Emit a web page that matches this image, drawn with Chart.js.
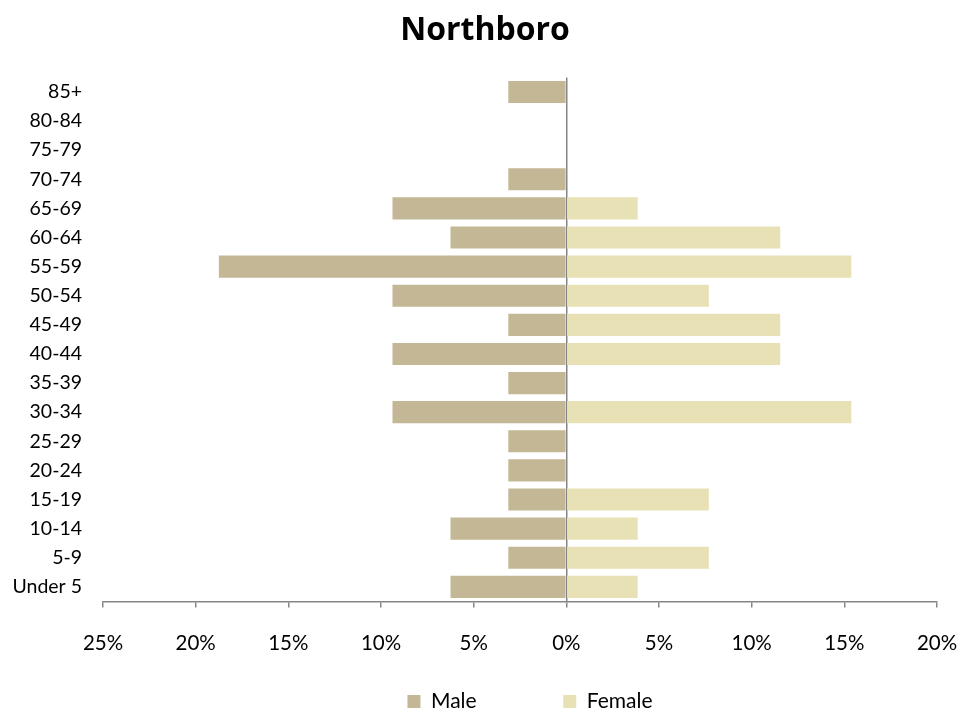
<!DOCTYPE html>
<html>
<head>
<meta charset="utf-8">
<script src="https://cdn.jsdelivr.net/npm/chart.js@4/dist/chart.umd.min.js"></script>
<style>
  html, body { margin: 0; padding: 0; background: #fff; }
  #wrap { width: 979px; height: 713px; }
</style>
</head>
<body>
<div id="wrap"><canvas id="c"></canvas></div>
<script>
// ── Data ─────────────────────────────────────────────────────────────────────
const ageGroups = ['85+', '80-84', '75-79', '70-74', '65-69', '60-64', '55-59', '50-54',
                   '45-49', '40-44', '35-39', '30-34', '25-29', '20-24', '15-19',
                   '10-14', '5-9', 'Under 5'];
// percent of total, male drawn to the left
const malePct   = [3.13, 0, 0, 3.13, 9.38, 6.25, 18.75, 9.38, 3.13, 9.38, 3.13, 9.38,
                   3.13, 3.13, 3.13, 6.25, 3.13, 6.25];
const femalePct = [0, 0, 0, 0, 3.85, 11.54, 15.38, 7.69, 11.54, 11.54, 0, 15.38,
                   0, 0, 7.69, 3.85, 7.69, 3.85];
const xTicks = [-25, -20, -15, -10, -5, 0, 5, 10, 15, 20];

const AXIS_GRAY = '#868686';
const FONT = "Lato, 'Open Sans', sans-serif";

// nudge title / legend sideways, the original is not centred on the canvas
const nudgeBlocks = {
  id: 'nudgeBlocks',
  afterLayout(chart) {
    const t = chart.titleBlock, l = chart.legend;
    if (t) { t.left += 12; t.right += 12; }
    if (l) { l.left += 10; l.right += 10; }
  },
};

new Chart(document.getElementById('c'), {
  type: 'bar',
  data: {
    labels: ageGroups,
    datasets: [
      { label: 'Male',   data: malePct.map(v => -v), backgroundColor: '#c4b795',
        barPercentage: 0.76, categoryPercentage: 1 },
      { label: 'Female', data: femalePct,            backgroundColor: '#e8e1b6',
        barPercentage: 0.76, categoryPercentage: 1 },
    ],
  },
  plugins: [nudgeBlocks],
  options: {
    indexAxis: 'y',
    responsive: true,
    maintainAspectRatio: false,
    animation: false,
    layout: { padding: { top: 4, right: 42, bottom: -9, left: 9 } },
    scales: {
      x: {
        min: -25, max: 20,
        afterBuildTicks: axis => { axis.ticks = xTicks.map(v => ({ value: v })); },
        afterFit: axis => {
          axis.height += 5;
          axis.paddingRight = 0;   // let layout.padding decide the right edge
          axis.paddingLeft = 0;
        },
        border: { display: true, color: AXIS_GRAY, width: 1.5 },
        grid: {
          drawOnChartArea: true,
          color: ctx => (ctx.tick && ctx.tick.value === 0) ? AXIS_GRAY : 'transparent',
          lineWidth: 1.5,
          tickColor: AXIS_GRAY,
          tickLength: 6,
        },
        ticks: {
          padding: 24,
          color: '#000',
          font: { family: FONT, size: 20.5 },
          callback: v => Math.abs(v) + '%',
          maxRotation: 0,
        },
      },
      y: {
        stacked: true,
        afterFit: axis => { axis.width = 94; },
        border: { display: false },
        grid: { display: false, drawTicks: false },
        ticks: {
          padding: 21,
          color: '#000',
          font: { family: FONT, size: 19.5 },
          autoSkip: false,
        },
      },
    },
    plugins: {
      title: {
        display: true,
        text: 'Northboro',
        color: '#000',
        font: { family: "'Open Sans', sans-serif", size: 32, weight: 'bold' },
        padding: { top: 8, bottom: 27 },
      },
      legend: {
        position: 'bottom',
        fullSize: false,
        labels: {
          color: '#000',
          font: { family: FONT, size: 21 },
          boxWidth: 13,
          boxHeight: 13,
          padding: 6,
          // widen the gap after "Male" like the original legend
          generateLabels: chart => {
            const items = Chart.defaults.plugins.legend.labels.generateLabels(chart);
            items[0].text = items[0].text + '\u00A0'.repeat(15);
            return items;
          },
        },
      },
      tooltip: { enabled: false },
    },
  },
});
</script>
</body>
</html>
